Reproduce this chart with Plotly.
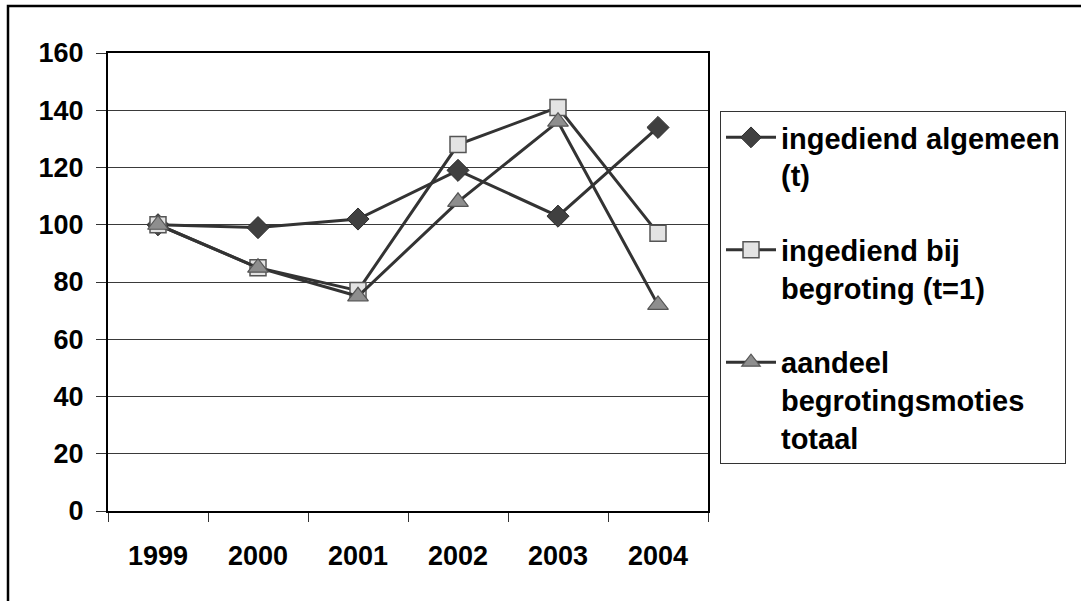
import plotly.graph_objects as go

# Data
years = ["1999", "2000", "2001", "2002", "2003", "2004"]
algemeen = [100, 99, 102, 119, 103, 134]
bij_begroting = [100, 85, 77, 128, 141, 97]
aandeel_totaal = [100, 85, 75, 108, 136, 72]

series_names = [
    "ingediend algemeen<br>(t)",
    "ingediend bij<br>begroting (t=1)",
    "aandeel<br>begrotingsmoties<br>totaal",
]
y_ticks = [0, 20, 40, 60, 80, 100, 120, 140, 160]

FONT = "Liberation Sans, Arial, sans-serif"
LINE = "#333333"

W, H = 1081, 601
L, R, T, B = 108, 373, 53, 90
plot_w = W - L - R
plot_h = H - T - B


def px_x(px):
    return (px - L) / plot_w


def px_y(py):
    return (H - B - py) / plot_h


styles = [
    dict(symbol="diamond", size=17, color="#404040", line=dict(color="#2e2e2e", width=1)),
    dict(symbol="square", size=16, color="#e3e3e3", line=dict(color="#555555", width=1.5)),
    dict(symbol="triangle-up", size=18, color="#8e8e8e", line=dict(color="#555555", width=1.2)),
]

fig = go.Figure()
for i, (name, vals) in enumerate(zip(series_names, [algemeen, bij_begroting, aandeel_totaal])):
    fig.add_trace(go.Scatter(
        x=years, y=vals, name=name, mode="lines+markers",
        line=dict(color=LINE, width=3),
        marker=styles[i],
        legendgroup=f"g{i}",
    ))

fig.update_layout(
    width=W, height=H,
    margin=dict(l=L, r=R, t=T, b=B),
    paper_bgcolor="white", plot_bgcolor="white",
    font=dict(family=FONT, size=27, color="black", weight="bold"),
    showlegend=True,
    legend=dict(
        x=px_x(720), y=px_y(111), xanchor="left", yanchor="top",
        bordercolor="#333333", borderwidth=1,
        font=dict(family=FONT, size=29, color="black", weight="bold"),
        valign="top", tracegroupgap=34, itemwidth=50,
        bgcolor="white",
    ),
    shapes=[dict(
        type="rect", xref="paper", yref="paper",
        x0=px_x(8), y0=-1, x1=3, y1=px_y(6),
        line=dict(color="black", width=2.5), layer="below",
    )],
)

fig.update_xaxes(
    type="category", range=[-0.5, 5.5],
    showline=True, linecolor="black", linewidth=2, mirror=True,
    ticks="outside", tickson="boundaries", ticklen=9, tickcolor="#333333", tickwidth=1,
    showgrid=False, ticklabelstandoff=20,
    tickfont=dict(family=FONT, size=27, color="black", weight="bold"),
)
fig.update_yaxes(
    range=[0, 160], tickvals=y_ticks,
    showline=True, linecolor="black", linewidth=2, mirror=True,
    ticks="outside", ticklen=10, tickcolor="#333333", tickwidth=1,
    showgrid=True, gridcolor="#3a3a3a", gridwidth=1,
    zeroline=False, ticklabelstandoff=7,
    tickfont=dict(family=FONT, size=27, color="black", weight="bold"),
)

fig.write_html("out.html")
